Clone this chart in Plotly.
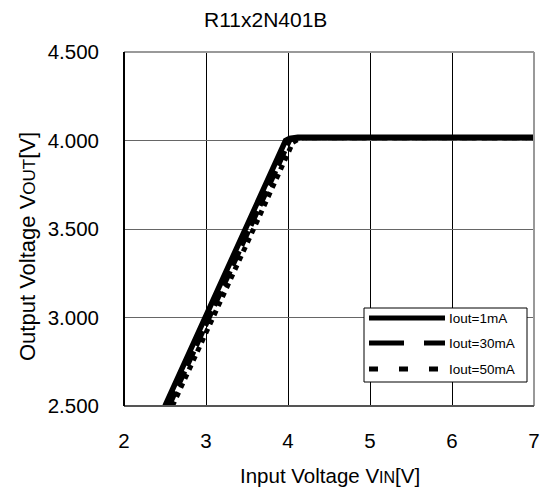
import plotly.graph_objects as go

# ---- data ----
vin_1mA = [2.50, 2.99, 3.48, 3.97, 4.02, 4.06, 4.12, 4.5, 5.0, 5.5, 6.0, 6.5, 7.0]
vout_1mA = [2.50, 3.00, 3.50, 4.00, 4.012, 4.017, 4.018, 4.018, 4.018, 4.018, 4.018, 4.018, 4.018]

vin_30mA = [2.55, 3.04, 3.53, 4.02, 4.07, 4.11, 4.16, 4.5, 5.0, 5.5, 6.0, 6.5, 7.0]
vout_30mA = [2.50, 3.00, 3.50, 4.00, 4.010, 4.015, 4.016, 4.016, 4.016, 4.016, 4.016, 4.016, 4.016]

vin_50mA = [2.59, 3.09, 3.58, 4.06, 4.11, 4.15, 4.20, 4.5, 5.0, 5.5, 6.0, 6.5, 7.0]
vout_50mA = [2.50, 3.00, 3.50, 3.99, 4.005, 4.013, 4.015, 4.015, 4.015, 4.015, 4.015, 4.015, 4.015]

series_names = ["Iout=1mA", "Iout=30mA", "Iout=50mA"]
x_ticks = [2, 3, 4, 5, 6, 7]
y_ticks = [2.5, 3.0, 3.5, 4.0, 4.5]
y_tick_labels = ["2.500", "3.000", "3.500", "4.000", "4.500"]

# the page body adds an 8px offset; compensate so the plot lands where the reference has it
OFF = 8
W, H = 552 - OFF, 490 - OFF
L, R, T, B = 124 - OFF, 18, 52 - OFF, 84
PW, PH = W - L - R, H - T - B


def px(xp):
    return (xp - OFF - L) / PW


def py(yp):
    return (H - B - (yp - OFF)) / PH


FONT = "Liberation Sans, Arial, sans-serif"

fig = go.Figure()
fig.add_trace(go.Scatter(x=vin_50mA, y=vout_50mA, mode="lines", name=series_names[2],
                         line=dict(color="black", width=5, dash="5px,5px"), showlegend=False))
fig.add_trace(go.Scatter(x=vin_30mA, y=vout_30mA, mode="lines", name=series_names[1],
                         line=dict(color="black", width=5, dash="16px,6px"), showlegend=False))
fig.add_trace(go.Scatter(x=vin_1mA, y=vout_1mA, mode="lines", name=series_names[0],
                         line=dict(color="black", width=5.5), showlegend=False))

shapes = []
# plot frame
shapes.append(dict(type="line", xref="paper", yref="paper", x0=0, x1=1, y0=1, y1=1,
                   line=dict(color="#999999", width=2), layer="above"))
shapes.append(dict(type="line", xref="paper", yref="paper", x0=1, x1=1, y0=0, y1=1,
                   line=dict(color="#999999", width=2), layer="above"))
shapes.append(dict(type="line", xref="paper", yref="paper", x0=0, x1=1, y0=0, y1=0,
                   line=dict(color="#555555", width=2), layer="above"))
shapes.append(dict(type="line", xref="paper", yref="paper", x0=0, x1=0, y0=0, y1=1,
                   line=dict(color="black", width=2), layer="above"))

# manual legend
shapes.append(dict(type="rect", xref="paper", yref="paper",
                   x0=px(364), x1=px(527), y0=py(382), y1=py(308),
                   line=dict(color="black", width=1), fillcolor="white", layer="above"))
legend_rows = [318, 343, 369]
legend_dash = ["solid", "35px,20px", "9px,21px"]
annotations = []
for yy, dsh, nm in zip(legend_rows, legend_dash, series_names):
    shapes.append(dict(type="line", xref="paper", yref="paper",
                       x0=px(369), x1=px(445), y0=py(yy), y1=py(yy),
                       line=dict(color="black", width=5, dash=dsh), layer="above"))
    annotations.append(dict(xref="paper", yref="paper", x=px(447), y=py(yy), text=nm,
                            showarrow=False, xanchor="left", yanchor="middle",
                            font=dict(size=13.5, color="black", family=FONT)))

# title
annotations.append(dict(xref="paper", yref="paper", x=px(265), y=py(20), text="R11x2N401B",
                        showarrow=False, xanchor="center", yanchor="middle",
                        font=dict(size=21, color="black", family=FONT)))
# axis titles
annotations.append(dict(xref="paper", yref="paper", x=px(330), y=py(475),
                        text="Input Voltage V<span style='font-size:16px'>IN</span>[V]",
                        showarrow=False, xanchor="center", yanchor="middle",
                        font=dict(size=20.5, color="black", family=FONT)))
annotations.append(dict(xref="paper", yref="paper", x=px(27), y=py(247),
                        text="Output Voltage V<span style='font-size:17px'>OUT</span>[V]",
                        showarrow=False, xanchor="center", yanchor="middle", textangle=-90,
                        font=dict(size=22, color="black", family=FONT)))

fig.update_layout(
    width=W, height=H,
    margin=dict(l=L, r=R, t=T, b=B, pad=0),
    paper_bgcolor="white", plot_bgcolor="white",
    showlegend=False,
    shapes=shapes,
    annotations=annotations,
    font=dict(family=FONT, color="black"),
)
fig.update_xaxes(range=[2, 7], tickvals=x_ticks, ticktext=[str(v) for v in x_ticks],
                 showgrid=True, gridcolor="black", gridwidth=1, zeroline=False,
                 showline=False, ticks="", ticklabelstandoff=20,
                 tickfont=dict(size=20.5, family=FONT, color="black"))
fig.update_yaxes(range=[2.5, 4.5], tickvals=y_ticks, ticktext=y_tick_labels,
                 showgrid=True, gridcolor="#666666", gridwidth=1, zeroline=False,
                 showline=False, ticks="", ticklabelstandoff=24,
                 tickfont=dict(size=20.5, family=FONT, color="black"))

fig.write_html("out.html")
